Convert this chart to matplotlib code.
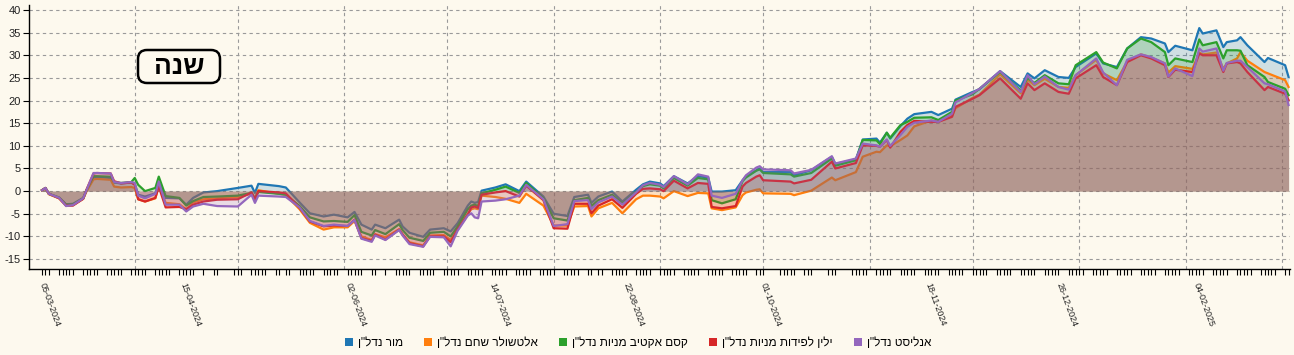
import pandas as pd
import matplotlib
matplotlib.use('Agg')
import matplotlib.pyplot as plt
from matplotlib.patches import Patch, FancyBboxPatch
from matplotlib.transforms import IdentityTransform

plt.rcParams['font.family'] = ['Liberation Sans', 'DejaVu Sans']

# tanggal sampel (hari bursa) dan tsuah tiap dana dalam persen
tanggal = [
    '2024-03-05', '2024-03-06', '2024-03-07', '2024-03-10', '2024-03-12', '2024-03-14', '2024-03-17', '2024-03-18', '2024-03-20', '2024-03-21',
    '2024-03-25', '2024-03-26', '2024-03-28', '2024-03-31', '2024-04-01', '2024-04-02', '2024-04-04', '2024-04-07', '2024-04-08', '2024-04-10',
    '2024-04-14', '2024-04-16', '2024-04-18', '2024-04-21', '2024-04-25', '2024-05-01', '2024-05-05', '2024-05-06', '2024-05-07', '2024-05-13',
    '2024-05-15', '2024-05-19', '2024-05-22', '2024-05-26', '2024-05-29', '2024-06-02', '2024-06-04', '2024-06-06', '2024-06-09', '2024-06-10',
    '2024-06-13', '2024-06-17', '2024-06-18', '2024-06-20', '2024-06-24', '2024-06-26', '2024-06-30', '2024-07-02', '2024-07-04', '2024-07-07',
    '2024-07-08', '2024-07-09', '2024-07-10', '2024-07-11', '2024-07-15', '2024-07-18', '2024-07-22', '2024-07-24', '2024-07-29', '2024-08-01',
    '2024-08-05', '2024-08-07', '2024-08-11', '2024-08-12', '2024-08-14', '2024-08-18', '2024-08-21', '2024-08-25', '2024-08-27', '2024-08-29',
    '2024-09-01', '2024-09-02', '2024-09-05', '2024-09-09', '2024-09-12', '2024-09-15', '2024-09-16', '2024-09-19', '2024-09-23', '2024-09-25',
    '2024-09-26', '2024-09-29', '2024-09-30', '2024-10-01', '2024-10-09', '2024-10-10', '2024-10-15', '2024-10-21', '2024-10-22', '2024-10-28',
    '2024-10-30', '2024-11-03', '2024-11-04', '2024-11-06', '2024-11-07', '2024-11-10', '2024-11-12', '2024-11-14', '2024-11-19', '2024-11-21',
    '2024-11-25', '2024-11-26', '2024-12-01', '2024-12-03', '2024-12-09', '2024-12-15', '2024-12-17', '2024-12-19', '2024-12-22', '2024-12-26',
    '2024-12-29', '2024-12-31', '2025-01-06', '2025-01-08', '2025-01-12', '2025-01-15', '2025-01-19', '2025-01-22', '2025-01-26', '2025-01-27',
    '2025-01-29', '2025-02-03', '2025-02-05', '2025-02-06', '2025-02-10', '2025-02-12', '2025-02-13', '2025-02-16', '2025-02-17', '2025-02-19',
    '2025-02-24', '2025-02-25', '2025-03-02', '2025-03-03',
]

mor = [
    0.2, 0.7, -0.6, -1.4, -2.9, -2.8, -1.5, 0.2, 3.0, 3.1,
    2.9, 1.9, 1.7, 1.9, 1.6, -0.8, -1.2, -0.5, 2.0, -1.5,
    -1.6, -3.0, -1.5, -0.3, 0.0, 0.7, 1.2, -0.4, 1.6, 1.1,
    0.8, -2.5, -4.9, -5.6, -5.2, -5.8, -4.6, -7.4, -8.5, -7.4,
    -8.2, -6.3, -7.8, -9.2, -10.1, -8.5, -8.2, -8.9, -7.1, -3.2,
    -2.3, -2.6, -2.4, 0.1, 0.8, 1.5, 0.0, 2.1, -1.2, -5.0,
    -5.5, -1.3, -0.8, -2.6, -1.2, -0.1, -2.3, 0.3, 1.5, 2.1,
    1.7, 1.1, 3.3, 1.7, 3.3, 3.0, -0.1, -0.1, 0.2, 2.4,
    3.3, 4.6, 5.0, 4.2, 4.2, 3.5, 4.6, 7.6, 6.0, 7.0,
    11.4, 11.6, 10.7, 12.9, 11.6, 14.4, 16.0, 17.0, 17.5, 16.8,
    18.2, 20.2, 21.9, 22.5, 26.5, 23.0, 26.0, 24.9, 26.7, 25.2,
    25.0, 27.4, 30.4, 28.2, 27.4, 31.5, 34.0, 33.7, 32.6, 30.7,
    32.1, 31.1, 36.0, 34.8, 35.5, 31.8, 32.9, 33.3, 34.0, 32.2,
    28.5, 29.4, 27.8, 25.2,
]

altshuler = [
    0.2, 0.6, -0.7, -1.6, -3.2, -3.1, -1.7, 0.0, 2.6, 2.7,
    2.5, 1.0, 0.8, 0.9, 0.7, -1.8, -2.3, -1.6, 1.2, -2.6,
    -2.9, -4.0, -2.5, -1.8, -1.6, -1.3, -0.6, -1.8, 0.2, -0.6,
    -0.9, -4.0, -7.0, -8.5, -8.0, -8.0, -6.6, -10.0, -10.8, -9.5,
    -10.2, -8.4, -9.6, -11.3, -12.0, -9.8, -9.7, -10.8, -8.3, -5.0,
    -4.0, -3.8, -4.0, -1.0, -1.3, -1.7, -2.6, -0.6, -3.2, -7.6,
    -7.6, -3.4, -3.3, -5.6, -3.8, -2.6, -4.9, -1.8, -1.0, -1.0,
    -1.2, -1.6, 0.0, -1.1, -0.4, -0.5, -3.8, -4.2, -3.6, -0.9,
    -0.3, 0.3, 0.4, -0.5, -0.6, -0.9, 0.1, 3.0, 2.4, 4.2,
    7.6, 8.7, 8.6, 10.1, 9.9, 11.3, 12.3, 14.3, 15.6, 15.3,
    16.6, 18.3, 20.6, 21.3, 25.8, 21.6, 24.6, 23.4, 24.8, 23.0,
    22.8, 25.6, 29.0, 26.0, 24.5, 28.6, 30.2, 29.5, 28.2, 26.2,
    27.6, 27.0, 30.6, 30.2, 30.6, 27.0, 28.2, 29.3, 30.7, 28.8,
    26.3, 26.0, 24.5, 23.0,
]

kesem = [
    0.2, 0.7, -0.6, -1.5, -3.0, -3.0, -1.6, 0.3, 3.3, 3.3,
    3.2, 2.0, 1.8, 2.0, 2.9, 1.4, 0.0, 0.7, 3.2, -1.1,
    -1.5, -3.2, -2.2, -1.3, -1.2, -1.0, -0.4, -1.6, -0.2, -0.6,
    -0.8, -3.3, -5.8, -6.7, -6.6, -6.8, -5.3, -9.0, -9.8, -8.6,
    -9.5, -7.3, -8.6, -10.3, -11.0, -9.2, -9.0, -10.0, -7.8, -4.0,
    -3.2, -3.0, -3.3, -0.5, 0.3, 1.0, -0.4, 1.8, -1.6, -6.0,
    -6.5, -2.0, -1.5, -3.3, -2.0, -0.8, -2.8, -0.2, 1.1, 1.5,
    1.2, 0.6, 2.9, 1.2, 2.9, 2.6, -2.0, -2.7, -1.8, 2.2,
    3.0, 4.5, 4.8, 4.0, 3.7, 3.2, 4.0, 7.2, 5.6, 6.8,
    11.3, 11.2, 10.4, 12.9, 11.8, 14.6, 15.3, 16.2, 16.3, 15.7,
    17.5, 20.0, 21.4, 22.6, 26.3, 22.2, 25.0, 23.9, 25.6, 23.8,
    23.6, 27.8, 30.7, 28.4, 27.1, 31.5, 33.7, 32.9, 30.7, 27.8,
    29.3, 28.5, 33.5, 32.2, 32.9, 29.3, 31.1, 31.1, 31.0, 27.8,
    25.2, 24.1, 22.6, 21.2,
]

yelin = [
    0.2, 0.7, -0.6, -1.6, -3.2, -3.2, -1.7, 0.4, 3.9, 4.0,
    3.9, 2.2, 1.7, 1.9, 1.4, -1.8, -2.3, -1.5, 1.0, -3.6,
    -3.5, -4.0, -3.0, -2.3, -1.9, -1.8, -0.3, -1.8, 0.0, -0.3,
    -0.5, -3.7, -6.7, -7.8, -7.6, -7.7, -6.3, -10.4, -11.0, -9.6,
    -10.7, -8.5, -9.6, -11.5, -12.2, -10.0, -10.0, -11.3, -8.5, -5.2,
    -3.6, -3.4, -3.7, -0.8, -0.3, 0.0, -1.2, 1.2, -2.0, -8.2,
    -8.3, -2.8, -2.8, -4.9, -3.2, -1.8, -3.7, -0.6, 0.5, 0.6,
    0.4, 0.0, 2.3, 0.6, 1.8, 1.6, -3.5, -3.8, -3.3, 1.0,
    1.8, 3.2, 3.5, 2.4, 2.1, 1.7, 2.5, 6.5, 5.0, 6.2,
    10.1, 10.0, 9.8, 11.3, 9.6, 13.1, 14.6, 15.5, 15.3, 15.3,
    16.4, 18.6, 20.4, 21.2, 24.9, 20.4, 23.8, 22.3, 23.8, 21.9,
    21.5, 24.9, 27.8, 25.2, 23.4, 28.5, 30.0, 29.3, 27.8, 25.2,
    26.8, 26.3, 30.4, 30.0, 30.0, 26.3, 28.2, 28.5, 28.2, 26.3,
    22.3, 23.0, 21.5, 20.1,
]

analyst = [
    0.2, 0.7, -0.6, -1.5, -3.3, -3.1, -1.6, 0.3, 4.0, 4.0,
    3.9, 2.0, 1.8, 2.0, 1.8, -1.0, -1.6, -0.6, 2.1, -3.0,
    -3.0, -4.5, -3.4, -2.8, -3.3, -3.4, -0.8, -2.6, -1.0, -1.2,
    -1.3, -3.6, -6.6, -7.7, -7.4, -7.7, -6.4, -10.5, -11.2, -9.8,
    -10.8, -8.6, -9.8, -11.7, -12.3, -10.1, -10.2, -12.2, -8.8, -5.4,
    -4.9, -5.8, -6.0, -2.3, -2.1, -1.8, -1.0, 1.4, -1.8, -7.7,
    -7.3, -2.2, -2.0, -4.0, -2.5, -1.2, -3.0, -0.3, 1.3, 1.8,
    1.4, 0.9, 3.3, 1.5, 3.7, 3.2, -1.0, -1.5, -0.6, 2.4,
    3.5, 5.2, 5.5, 4.8, 4.6, 3.9, 4.7, 7.7, 6.1, 7.2,
    10.5, 10.1, 9.8, 11.4, 10.0, 12.4, 14.2, 15.1, 15.6, 15.3,
    17.1, 19.6, 21.7, 22.6, 26.5, 21.9, 25.6, 23.6, 25.3, 23.0,
    22.4, 25.6, 29.3, 26.2, 23.4, 29.0, 30.2, 29.6, 28.2, 25.3,
    27.1, 25.4, 31.5, 30.8, 31.5, 26.6, 28.3, 28.8, 28.8, 27.4,
    23.8, 23.6, 22.0, 19.0,
]

nama_dana = ['מור נדל"ן', 'אלטשולר שחם נדל"ן', 'קסם אקטיב מניות נדל"ן', 'ילין לפידות מניות נדל"ן', 'אנליסט נדל"ן']
warna = ['#1f77b4', '#ff7f0e', '#2ca02c', '#d62728', '#9467bd']
judul = 'שנה'

# label sumbu x dan hari libur bursa
tanggal_label = ['2024-03-05', '2024-04-15', '2024-06-02', '2024-07-14', '2024-08-22',
                 '2024-10-01', '2024-11-18', '2024-12-26', '2025-02-04']
hari_libur = ['2024-04-22', '2024-04-23', '2024-04-28', '2024-04-29', '2024-05-14',
              '2024-06-11', '2024-06-12', '2024-08-13', '2024-10-02', '2024-10-03',
              '2024-10-16', '2024-10-17', '2024-10-23', '2024-10-24']
y_ticks = [-15, -10, -5, 0, 5, 10, 15, 20, 25, 30, 35, 40]


def heb(s):
    # matplotlib tidak support RTL, jadi dibalik manual
    return s[::-1]


bg = '#fdf9ee'
W, H = 1294, 355
fig = plt.figure(figsize=(W / 100, H / 100), dpi=100, facecolor=bg)
ax = fig.add_axes([29 / W, 1 - 269 / H, (1290 - 29) / W, (269 - 5) / H])
ax.set_facecolor(bg)

x = pd.to_datetime(tanggal)
for vals, c in zip([mor, altshuler, kesem, yelin, analyst], warna):
    ax.fill_between(x, vals, 0, color=c, alpha=0.2, linewidth=0, zorder=2)
    ax.plot(x, vals, color=c, lw=1.6, zorder=2)

ax.set_xlim(pd.Timestamp('2024-03-01 05:00'), pd.Timestamp('2025-03-03 10:00'))
ax.set_ylim(-17.2, 41.1)

# grid
grid_kw = dict(color='#9a9a9a', lw=0.8, ls=(0, (3, 3)), zorder=1)
for yv in y_ticks:
    ax.axhline(yv, **grid_kw)
for m in pd.date_range('2024-04-01', '2025-03-01', freq='MS'):
    ax.axvline(m, **grid_kw)

ax.set_yticks(y_ticks)
ax.set_yticklabels([str(v) for v in y_ticks], fontsize=8, color='#222')

hari_bursa = pd.bdate_range('2024-03-05', '2025-03-03', freq='C',
                            weekmask='Sun Mon Tue Wed Thu', holidays=hari_libur)
ax.set_xticks(hari_bursa, minor=True)
ax.set_xticks(pd.to_datetime(tanggal_label))
ax.set_xticklabels([pd.Timestamp(d).strftime('%d-%m-%Y') for d in tanggal_label],
                   rotation=-70, ha='left', va='center', rotation_mode='anchor',
                   fontsize=6.5, color='#222')
ax.tick_params(axis='x', which='both', length=4, width=0.8, pad=6)
ax.tick_params(axis='y', length=4, width=0.8, pad=2)

for s in ['top', 'right']:
    ax.spines[s].set_visible(False)
for s in ['left', 'bottom']:
    ax.spines[s].set_linewidth(1.0)

# kotak judul "שנה" (koordinat pixel)
kotak = FancyBboxPatch((138, H - 83), 82, 33, boxstyle='round,pad=0,rounding_size=9',
                       fc=bg, ec='black', lw=1.8, transform=IdentityTransform(), zorder=5)
fig.add_artist(kotak)
fig.text(179 / W, 1 - 67 / H, heb(judul), ha='center', va='center',
         fontsize=19, fontweight='bold', zorder=6)

handles = [Patch(facecolor=c, edgecolor='none') for c in warna]
fig.legend(handles, [heb(n) for n in nama_dana], loc='center', bbox_to_anchor=(0.493, 0.034),
           ncol=5, frameon=False, fontsize=8.5, handlelength=0.7, handleheight=0.7,
           handletextpad=0.4, columnspacing=1.8)

fig.savefig('out.png', dpi=100, facecolor=bg)
